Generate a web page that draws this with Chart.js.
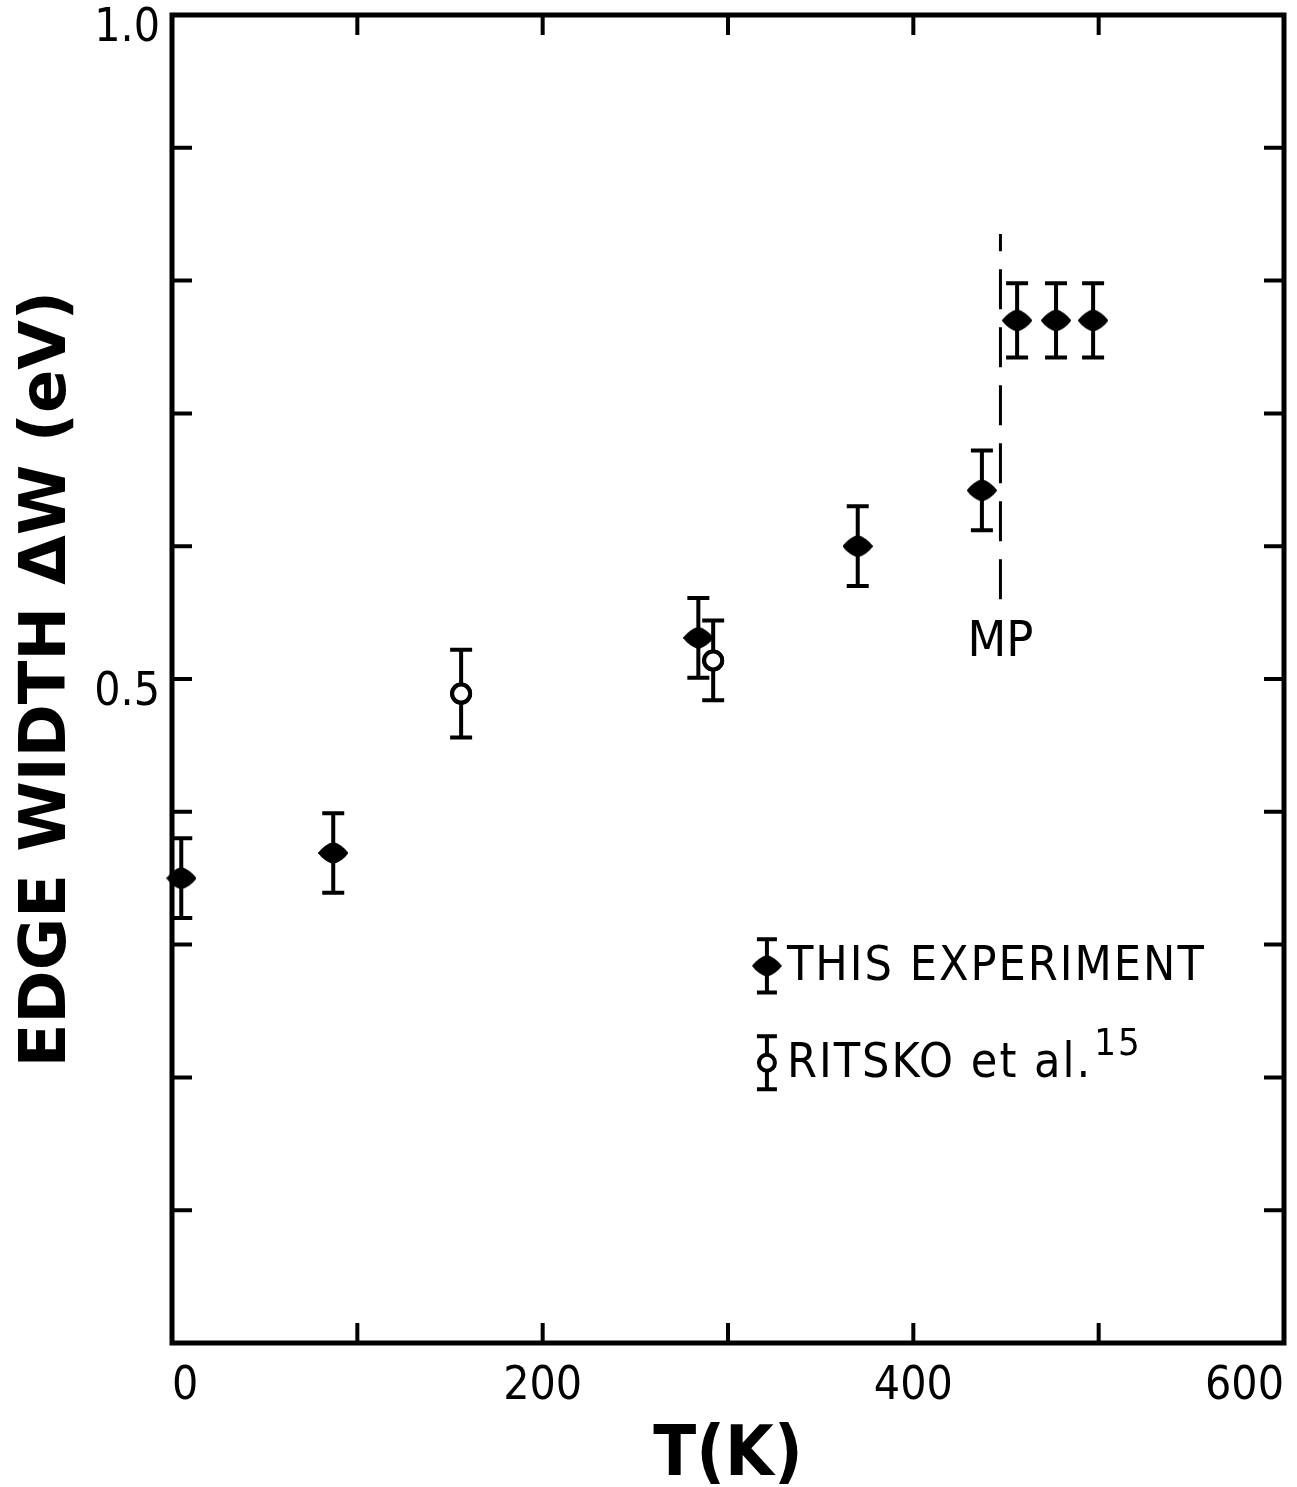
<!DOCTYPE html>
<html>
<head>
<meta charset="utf-8">
<title>Edge width vs temperature</title>
<script src="https://cdn.jsdelivr.net/npm/chart.js@4.4.1/dist/chart.umd.min.js"></script>
<style>
  body { margin: 0; background: #fff; }
  #wrap { width: 1297px; height: 1487px; }
</style>
</head>
<body>
<div id="wrap"><canvas id="edgeChart" width="1297" height="1487"></canvas></div>
<script>
// --- Data ---
const expTemp = [5, 87, 284, 370, 437, 456, 477, 497];
const expWidth = [0.350, 0.369, 0.531, 0.600, 0.642, 0.770, 0.770, 0.770];
const expErr = [0.030, 0.030, 0.030, 0.030, 0.030, 0.028, 0.028, 0.028];

const ritskoTemp = [156, 292];
const ritskoWidth = [0.489, 0.514];
const ritskoErr = [0.033, 0.030];

// melting point marker
const mpTemp = 447;
const mpRange = [0.56, 0.835];

const xTicks = [0, 100, 200, 300, 400, 500, 600];
const xLabels = [0, 200, 400, 600];
const yTicks = [0, 0.1, 0.2, 0.3, 0.4, 0.5, 0.6, 0.7, 0.8, 0.9, 1.0];
const yLabels = [0.5, 1.0];

const NARROW = '"DejaVu Sans Condensed", sans-serif';
const WIDE = '"DejaVu Sans", sans-serif';
const INK = '#000';

function toPoints(xs, ys) {
  return xs.map((x, i) => ({ x: x, y: ys[i] }));
}

// rounded, slightly flattened diamond used as the marker of this experiment
function makeDiamond() {
  const c = document.createElement('canvas');
  c.width = 30; c.height = 22;
  const g = c.getContext('2d');
  g.fillStyle = INK;
  g.beginPath();
  g.moveTo(15, 0);
  g.quadraticCurveTo(24, 3, 30, 11);
  g.quadraticCurveTo(24, 19, 15, 22);
  g.quadraticCurveTo(6, 19, 0, 11);
  g.quadraticCurveTo(6, 3, 15, 0);
  g.fill();
  return c;
}
const diamond = makeDiamond();

function drawBar(ctx, px, top, bot, half) {
  ctx.beginPath();
  ctx.moveTo(px, top); ctx.lineTo(px, bot);
  ctx.moveTo(px - half, top); ctx.lineTo(px + half, top);
  ctx.moveTo(px - half, bot); ctx.lineTo(px + half, bot);
  ctx.stroke();
}

// --- Error bars for the two series ---
const errorBars = {
  id: 'errorBars',
  afterDatasetsDraw(chart) {
    const ctx = chart.ctx;
    const xs = chart.scales.x, ys = chart.scales.y;
    ctx.save();
    ctx.strokeStyle = INK;
    ctx.lineWidth = 4;
    chart.data.datasets.forEach(ds => {
      if (!ds.errors) return;
      ds.data.forEach((p, j) => {
        drawBar(ctx, xs.getPixelForValue(p.x),
          ys.getPixelForValue(p.y + ds.errors[j]),
          ys.getPixelForValue(p.y - ds.errors[j]), 11);
      });
    });
    ctx.restore();
    // markers go back on top of the bars
    chart.data.datasets.forEach((ds, i) => {
      if (!ds.errors) return;
      chart.getDatasetMeta(i).data.forEach(el => el.draw(ctx, chart.chartArea));
    });
  }
};

// --- Frame with inward ticks on all four sides, legend and MP label ---
const frame = {
  id: 'frame',
  afterDraw(chart) {
    const ctx = chart.ctx;
    const a = chart.chartArea;
    const xs = chart.scales.x, ys = chart.scales.y;
    ctx.save();
    ctx.strokeStyle = INK;
    ctx.lineWidth = 5;
    ctx.strokeRect(a.left, a.top, a.right - a.left, a.bottom - a.top);

    ctx.lineWidth = 4;
    ctx.beginPath();
    xTicks.slice(1, -1).forEach(v => {
      const px = xs.getPixelForValue(v);
      ctx.moveTo(px, a.bottom); ctx.lineTo(px, a.bottom - 20);
      ctx.moveTo(px, a.top); ctx.lineTo(px, a.top + 20);
    });
    yTicks.slice(1, -1).forEach(v => {
      const py = ys.getPixelForValue(v);
      ctx.moveTo(a.left, py); ctx.lineTo(a.left + 20, py);
      ctx.moveTo(a.right, py); ctx.lineTo(a.right - 20, py);
    });
    ctx.stroke();

    // MP label under the dashed line
    ctx.fillStyle = INK;
    ctx.font = '50px ' + NARROW;
    ctx.textAlign = 'center';
    ctx.textBaseline = 'middle';
    ctx.fillText('MP', xs.getPixelForValue(mpTemp), ys.getPixelForValue(0.527));

    // legend
    const items = [
      { label: 'THIS EXPERIMENT', style: 'diamond', dy: 0.284 },
      { label: 'RITSKO et al.', sup: '15', style: 'circle', dy: 0.211 }
    ];
    items.forEach(it => {
      const lx = xs.getPixelForValue(321);
      const ly = ys.getPixelForValue(it.dy);
      ctx.lineWidth = 4;
      drawBar(ctx, lx, ys.getPixelForValue(it.dy + 0.02), ys.getPixelForValue(it.dy - 0.02), 10);
      if (it.style === 'diamond') {
        ctx.drawImage(diamond, lx - 15, ly - 11);
      } else {
        ctx.fillStyle = '#fff';
        ctx.beginPath();
        ctx.arc(lx, ly, 8, 0, Math.PI * 2);
        ctx.fill();
        ctx.stroke();
      }
      ctx.fillStyle = INK;
      ctx.textAlign = 'left';
      ctx.font = '48px ' + NARROW;
      ctx.letterSpacing = '2px';
      ctx.fillText(it.label, lx + 20, ly + 2);
      if (it.sup) {
        const w = ctx.measureText(it.label).width;
        ctx.font = '38px ' + NARROW;
        ctx.fillText(it.sup, lx + 20 + w + 2, ly - 18);
      }
      ctx.letterSpacing = '0px';
    });
    ctx.restore();
  }
};

const ctx = document.getElementById('edgeChart').getContext('2d');
new Chart(ctx, {
  type: 'scatter',
  data: {
    datasets: [
      {
        label: 'THIS EXPERIMENT',
        data: toPoints(expTemp, expWidth),
        errors: expErr,
        pointStyle: diamond,
        pointRadius: 12
      },
      {
        label: 'RITSKO et al.',
        data: toPoints(ritskoTemp, ritskoWidth),
        errors: ritskoErr,
        pointStyle: 'circle',
        pointRadius: 9,
        backgroundColor: '#fff',
        borderColor: INK,
        borderWidth: 4
      },
      {
        label: 'MP',
        type: 'line',
        data: toPoints([mpTemp, mpTemp], mpRange),
        borderColor: INK,
        borderWidth: 3,
        borderDash: [40, 18],
        pointRadius: 0,
        fill: false
      }
    ]
  },
  options: {
    responsive: false,
    animation: false,
    events: [],
    layout: { padding: { top: 15, right: 13, left: 0, bottom: 0 } },
    plugins: {
      legend: { display: false },
      tooltip: { enabled: false }
    },
    scales: {
      x: {
        type: 'linear',
        min: 0,
        max: 600,
        afterBuildTicks: s => { s.ticks = xTicks.map(v => ({ value: v })); },
        afterFit: s => { s.height = 144; s.paddingLeft = 0; s.paddingRight = 0; },
        grid: { display: false, drawTicks: false },
        border: { display: false },
        ticks: {
          autoSkip: false,
          maxRotation: 0,
          align: 'inner',
          padding: 16,
          color: INK,
          font: { family: NARROW, size: 46 },
          callback: v => xLabels.includes(v) ? String(v) : ''
        },
        title: {
          display: true,
          text: 'T(K)',
          color: INK,
          font: { family: NARROW, size: 70, weight: 'bold', lineHeight: 0.8 },
          padding: { top: 0, bottom: 2 }
        }
      },
      y: {
        type: 'linear',
        min: 0,
        max: 1.0,
        afterBuildTicks: s => { s.ticks = yTicks.map(v => ({ value: v })); },
        afterFit: s => { s.width = 172; s.paddingTop = 0; s.paddingBottom = 0; },
        grid: { display: false, drawTicks: false },
        border: { display: false },
        ticks: {
          autoSkip: false,
          padding: 12,
          labelOffset: 14,
          color: INK,
          font: { family: NARROW, size: 46 },
          callback: v => yLabels.some(l => Math.abs(l - v) < 1e-9) ? v.toFixed(1) : ''
        },
        title: {
          display: true,
          text: 'EDGE WIDTH ΔW (eV)',
          color: INK,
          font: { family: WIDE, size: 64, weight: 'bold' },
          padding: { bottom: 0, top: 10 }
        }
      }
    }
  },
  plugins: [errorBars, frame]
});
</script>
</body>
</html>
